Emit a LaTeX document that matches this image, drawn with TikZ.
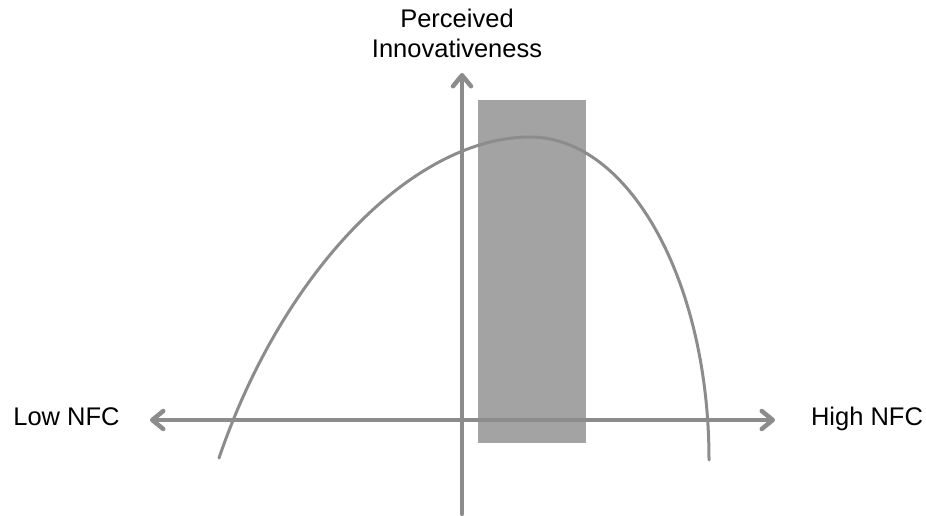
\documentclass[tikz,border=0pt]{standalone}
\usepackage{fontspec}
\setmainfont{Liberation Sans}
\usepackage{xcolor}
\definecolor{nfcAxis}{RGB}{140, 140, 140}
\definecolor{nfcBand}{RGB}{163, 163, 163}
\usetikzlibrary{arrows.meta}

\begin{document}
\begin{tikzpicture}[
    x=1pt, y=-1pt,
    nfcTip/.tip={Straight Barb[length=11pt, width=18pt, line cap=round, line join=round]},
    nfcAxisLine/.style={
        draw=nfcAxis, line width=4.5pt, line cap=round
    },
    nfcCurve/.style={
        draw=nfcAxis, line width=3pt, line cap=round
    },
    nfcBox/.style={
        fill=nfcBand, draw=none
    },
    nfcLabel/.style={
        font=\fontsize{25.5}{30}\selectfont, text=black,
        inner sep=0pt, align=center
    }
]
    \useasboundingbox (0,0) rectangle (926,516);

    % Shaded band
    \fill[nfcBox] (478,100) rectangle (586,443);

    % Axis end points
    \coordinate (xLeft) at (150,420);
    \coordinate (xRight) at (775,420);
    \coordinate (yBottom) at (462,514);
    \coordinate (yTop) at (462,73);

    % Inverted-U curve
    \coordinate (curveStart) at (219,458);
    \coordinate (curvePeak) at (530,137);
    \coordinate (curveEnd) at (709,460);
    \draw[nfcCurve] (curveStart) .. controls (284,268) and (415,137) .. (curvePeak)
        .. controls (629,137) and (709,281) .. (curveEnd);

    % Axes
    \draw[nfcAxisLine, {nfcTip}-{nfcTip}] (xLeft) -- (xRight);
    \draw[nfcAxisLine, -{nfcTip}] (yBottom) -- (yTop);

    % Labels
    \node[nfcLabel, anchor=base] (lowNfc) at (66.5,425) {Low NFC};
    \node[nfcLabel, anchor=base] (highNfc) at (867,425) {High NFC};
    \node[nfcLabel] (innovLabel) at (457,33.5) {Perceived\\Innovativeness};

\end{tikzpicture}
\end{document}
